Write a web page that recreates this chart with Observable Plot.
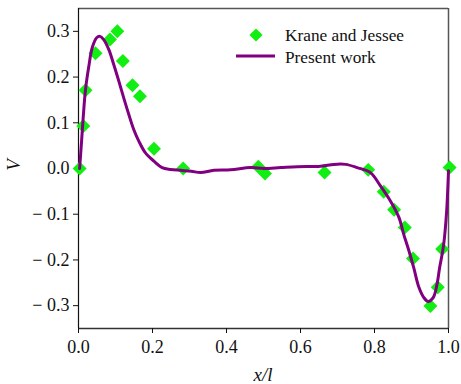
<!DOCTYPE html>
<html>
<head>
<meta charset="utf-8">
<script src="https://cdn.jsdelivr.net/npm/d3@7"></script>
<script src="https://cdn.jsdelivr.net/npm/@observablehq/plot@0.6"></script>
<style>
  html, body { margin: 0; padding: 0; background: #fff; }
  #chart { position: relative; width: 461px; height: 384px; }
</style>
</head>
<body>
<div id="chart"></div>
<script>
// Experimental data: Krane and Jessee
const expX = [0.003, 0.013, 0.019, 0.046, 0.085, 0.105, 0.120, 0.146, 0.166, 0.204, 0.283, 0.486, 0.504, 0.665, 0.783, 0.825, 0.853, 0.882, 0.904, 0.951, 0.971, 0.983, 1.003];
const expV = [0.0, 0.093, 0.171, 0.252, 0.282, 0.300, 0.235, 0.182, 0.158, 0.043, 0.0, 0.004, -0.011, -0.009, -0.003, -0.051, -0.090, -0.129, -0.197, -0.301, -0.260, -0.176, 0.002];

// Present work curve
const curX = [0.003, 0.008, 0.013, 0.019, 0.028, 0.037, 0.049, 0.058, 0.068, 0.082, 0.095, 0.109, 0.122, 0.136, 0.149, 0.163, 0.181, 0.204, 0.226, 0.249, 0.276, 0.305, 0.330, 0.366, 0.411, 0.465, 0.501, 0.546, 0.591, 0.654, 0.690, 0.722, 0.753, 0.789, 0.816, 0.843, 0.866, 0.879, 0.893, 0.906, 0.920, 0.933, 0.945, 0.959, 0.969, 0.976, 0.981, 0.987, 0.995, 1.0];
const curV = [0.0, 0.056, 0.115, 0.173, 0.224, 0.264, 0.286, 0.289, 0.282, 0.260, 0.228, 0.191, 0.155, 0.118, 0.086, 0.060, 0.034, 0.016, 0.002, -0.002, -0.004, -0.006, -0.009, -0.004, -0.003, 0.002, 0.0, 0.002, 0.004, 0.005, 0.009, 0.009, 0.002, -0.009, -0.038, -0.071, -0.107, -0.144, -0.180, -0.217, -0.260, -0.282, -0.291, -0.282, -0.253, -0.217, -0.195, -0.166, -0.093, -0.005];

const xTicks = [0, 0.2, 0.4, 0.6, 0.8, 1.0];
const yTicks = [-0.3, -0.2, -0.1, 0, 0.1, 0.2, 0.3];
const xDomain = [0, 1];
const yDomain = [-0.35, 0.35];
const seriesNames = ["Krane and Jessee", "Present work"];
const axisLabels = {x: "x/l", y: "V"};

const expData = expX.map((x, i) => ({x, v: expV[i]}));
const curData = curX.map((x, i) => ({x, v: curV[i]}));

const fmtY = d => {
  const a = Math.abs(d).toFixed(1);
  return d < -1e-9 ? "\u2212 " + a : a;
};

const SERIF = "'Liberation Serif', 'Times New Roman', 'DejaVu Serif', serif";

const plot = Plot.plot({
  width: 461,
  height: 384,
  marginLeft: 78,
  marginRight: 13,
  marginTop: 8,
  marginBottom: 56,
  style: {fontSize: "18px", color: "#111", background: "#fff"},
  x: {domain: xDomain, label: null},
  y: {domain: yDomain, label: null},
  marks: [
    Plot.ruleY([yDomain[1]], {stroke: "#555", strokeWidth: 1.5}),
    Plot.ruleX([xDomain[1]], {stroke: "#555", strokeWidth: 1.5}),
    Plot.ruleY([yDomain[0]], {stroke: "#333", strokeWidth: 1.5}),
    Plot.ruleX([xDomain[0]], {stroke: "#111", strokeWidth: 1.2}),
    Plot.axisX({ticks: xTicks, tickFormat: d => d.toFixed(1), tickSize: 5, tickPadding: 7, label: null}),
    Plot.axisY({ticks: yTicks, tickFormat: fmtY, tickSize: 5, tickPadding: 4, label: null}),
    Plot.dot(expData, {x: "x", y: "v", symbol: "diamond2", r: 6.3, fill: "#11ee11", stroke: "none"}),
    Plot.line(curData, {x: "x", y: "v", stroke: "#800080", strokeWidth: 3, curve: "catmull-rom"})
  ]
});

document.getElementById("chart").appendChild(plot);

// axis titles and legend
const svg = d3.select(plot);
svg.append("text")
  .attr("x", 263).attr("y", 381)
  .attr("text-anchor", "middle")
  .attr("font-style", "italic")
  .attr("font-size", 19)
  .attr("fill", "#111")
  .text(axisLabels.x);
svg.append("text")
  .attr("transform", "translate(20,165) rotate(-90)")
  .attr("text-anchor", "middle")
  .attr("font-style", "italic")
  .attr("font-size", 19)
  .attr("fill", "#111")
  .text(axisLabels.y);

const leg = svg.append("g").attr("text-anchor", "start");
leg.append("path")
  .attr("d", d3.symbol(d3.symbolDiamond2, 110)())
  .attr("transform", "translate(256,35)")
  .attr("fill", "#11ee11");
leg.append("text").attr("x", 285).attr("y", 40.5).attr("font-size", 17.3).attr("text-anchor", "start").attr("fill", "#111").text(seriesNames[0]);
leg.append("line").attr("x1", 236).attr("x2", 275).attr("y1", 56).attr("y2", 56)
  .attr("stroke", "#800080").attr("stroke-width", 3);
leg.append("text").attr("x", 285).attr("y", 62.5).attr("font-size", 17.3).attr("text-anchor", "start").attr("fill", "#111").text(seriesNames[1]);

svg.style("font-family", SERIF);
svg.selectAll("g").style("font-family", SERIF);
svg.selectAll("text").style("font-family", SERIF);
</script>
</body>
</html>
